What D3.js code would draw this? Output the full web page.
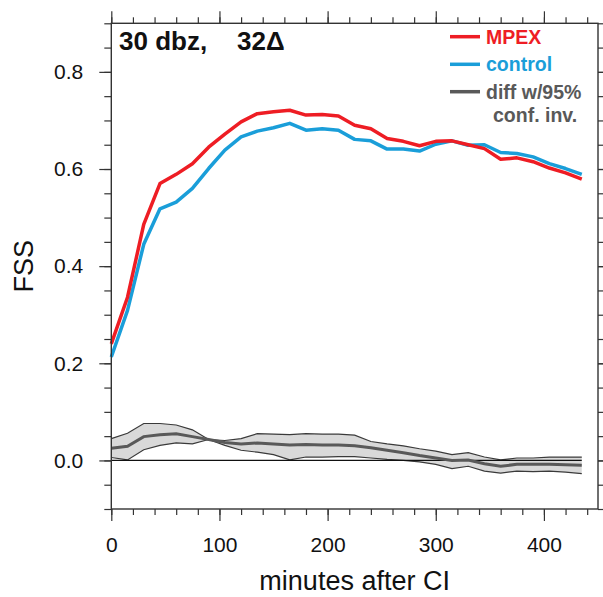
<!DOCTYPE html>
<html>
<head>
<meta charset="utf-8">
<script src="https://cdn.jsdelivr.net/npm/d3@7"></script>
<style>
  body { margin: 0; background: #fff; }
  text { font-family: "Liberation Sans", Helvetica, Arial, sans-serif; }
</style>
</head>
<body>
<svg></svg>
<script>
var width = 603,
    height = 597;

// minutes after CI
var minutes = [0, 15, 30, 45, 60, 75, 90, 105, 120, 135, 150, 165, 180, 195, 210,
    225, 240, 255, 270, 285, 300, 315, 330, 345, 360, 375, 390, 405, 420, 435];

var mpex = [0.240, 0.336, 0.486, 0.570, 0.589, 0.611, 0.645, 0.672, 0.697, 0.714,
    0.718, 0.721, 0.711, 0.712, 0.709, 0.690, 0.683, 0.663, 0.657, 0.648,
    0.657, 0.658, 0.650, 0.642, 0.620, 0.623, 0.615, 0.602, 0.592, 0.579];

var control = [0.213, 0.309, 0.445, 0.518, 0.532, 0.560, 0.601, 0.639, 0.666, 0.678,
    0.685, 0.694, 0.680, 0.683, 0.680, 0.661, 0.658, 0.641, 0.641, 0.637,
    0.651, 0.658, 0.649, 0.650, 0.634, 0.632, 0.625, 0.611, 0.601, 0.589];

var diff = [0.025, 0.029, 0.049, 0.053, 0.055, 0.049, 0.043, 0.037, 0.034, 0.036,
    0.034, 0.032, 0.033, 0.032, 0.032, 0.030, 0.026, 0.021, 0.016, 0.010,
    0.005, 0.000, 0.001, -0.007, -0.012, -0.008, -0.008, -0.008, -0.009, -0.010];

// the two edges of the 95% confidence band (they cross near 90 min)
var ciEdgeA = [0.045, 0.056, 0.076, 0.076, 0.073, 0.063, 0.043, 0.031, 0.021, 0.017,
    0.012, 0.001, 0.007, 0.007, 0.008, 0.008, 0.005, 0.002, 0.000, -0.003,
    -0.008, -0.017, -0.012, -0.022, -0.026, -0.022, -0.023, -0.022, -0.024, -0.027];

var ciEdgeB = [0.006, 0.001, 0.022, 0.031, 0.036, 0.034, 0.043, 0.041, 0.045, 0.055,
    0.054, 0.053, 0.055, 0.054, 0.054, 0.052, 0.039, 0.034, 0.030, 0.024,
    0.019, 0.012, 0.016, 0.007, 0.001, 0.005, 0.005, 0.007, 0.007, 0.007];

var xTicks = [0, 100, 200, 300, 400],
    yTicks = [0.0, 0.2, 0.4, 0.6, 0.8];

var legendItems = [
    { name: "MPEX", lines: ["MPEX"] },
    { name: "control", lines: ["control"] },
    { name: "diff", lines: ["diff w/95%", "conf. inv."] }
];

var colorMapping = {
    "MPEX": "#ee1d24",
    "control": "#1a9ed9",
    "diff": "#595959"
};

var margin = { left: 111.3, right: 5, top: 23.3, bottom: 88 };

var svg = d3.select("svg")
    .attr("width", width)
    .attr("height", height);

var x = d3.scaleLinear()
    .domain([0, 450])
    .range([margin.left, width - margin.right]);

var y = d3.scaleLinear()
    .domain([-0.1, 0.9])
    .range([height - margin.bottom, margin.top]);

var rows = minutes.map(function (m, i) {
    return { t: m, mpex: mpex[i], control: control[i], diff: diff[i], a: ciEdgeA[i], b: ciEdgeB[i] };
});

// confidence band
svg.append("path")
    .datum(rows)
    .attr("fill", "#d9d9d9")
    .attr("d", d3.area()
        .x(function (d) { return x(d.t); })
        .y0(function (d) { return y(d.a); })
        .y1(function (d) { return y(d.b); }));

["a", "b"].forEach(function (k) {
    svg.append("path")
        .datum(rows)
        .attr("fill", "none")
        .attr("stroke", "#3a3a3a")
        .attr("stroke-width", 1.2)
        .attr("d", d3.line()
            .x(function (d) { return x(d.t); })
            .y(function (d) { return y(d[k]); }));
});

// zero reference line
svg.append("line")
    .attr("x1", x(0))
    .attr("x2", x(minutes[minutes.length - 1]))
    .attr("y1", y(0))
    .attr("y2", y(0))
    .attr("stroke", "#111")
    .attr("stroke-width", 1.3);

svg.append("path")
    .datum(rows)
    .attr("fill", "none")
    .attr("stroke", colorMapping["diff"])
    .attr("stroke-width", 3)
    .attr("d", d3.line()
        .x(function (d) { return x(d.t); })
        .y(function (d) { return y(d.diff); }));

[["control", "control"], ["mpex", "MPEX"]].forEach(function (s) {
    svg.append("path")
        .datum(rows)
        .attr("fill", "none")
        .attr("stroke", colorMapping[s[1]])
        .attr("stroke-width", 3.5)
        .attr("stroke-linejoin", "round")
        .attr("d", d3.line()
            .x(function (d) { return x(d.t); })
            .y(function (d) { return y(d[s[0]]); }));
});

// axes: ticks out on all four sides, labels only left and bottom
var frameColor = "#333";

function styleAxis(g) {
    g.select(".domain").remove();
    g.selectAll("line").attr("stroke", frameColor).attr("stroke-width", 1.2);
    g.selectAll("text")
        .attr("fill", "#111")
        .style("font-size", "21px");
}

var xMinor = d3.range(0, 451, 20),
    yMinor = d3.range(-0.1, 0.901, 0.05);

var plotBottom = y(-0.1), plotTop = y(0.9), plotLeft = x(0), plotRight = x(450);

svg.append("g")
    .attr("transform", "translate(0," + plotBottom + ")")
    .call(d3.axisBottom(x).tickValues(xMinor).tickSize(6).tickFormat(""))
    .call(styleAxis);
svg.append("g")
    .attr("transform", "translate(0," + plotBottom + ")")
    .call(d3.axisBottom(x).tickValues(xTicks).tickSize(12).tickPadding(16).tickFormat(d3.format("d")))
    .call(styleAxis);

svg.append("g")
    .attr("transform", "translate(0," + plotTop + ")")
    .call(d3.axisTop(x).tickValues(xMinor).tickSize(6).tickFormat(""))
    .call(styleAxis);
svg.append("g")
    .attr("transform", "translate(0," + plotTop + ")")
    .call(d3.axisTop(x).tickValues(xTicks).tickSize(12).tickFormat(""))
    .call(styleAxis);

svg.append("g")
    .attr("transform", "translate(" + plotLeft + ",0)")
    .call(d3.axisLeft(y).tickValues(yMinor).tickSize(7).tickFormat(""))
    .call(styleAxis);
svg.append("g")
    .attr("transform", "translate(" + plotLeft + ",0)")
    .call(d3.axisLeft(y).tickValues(yTicks).tickSize(12).tickPadding(16).tickFormat(d3.format(".1f")))
    .call(styleAxis);

svg.append("g")
    .attr("transform", "translate(" + plotRight + ",0)")
    .call(d3.axisRight(y).tickValues(yMinor).tickSize(7).tickFormat(""))
    .call(styleAxis);
svg.append("g")
    .attr("transform", "translate(" + plotRight + ",0)")
    .call(d3.axisRight(y).tickValues(yTicks).tickSize(12).tickFormat(""))
    .call(styleAxis);

svg.append("rect")
    .attr("x", plotLeft)
    .attr("y", plotTop)
    .attr("width", plotRight - plotLeft)
    .attr("height", plotBottom - plotTop)
    .attr("fill", "none")
    .attr("stroke", frameColor)
    .attr("stroke-width", 1.4);

// axis titles
svg.append("text")
    .attr("x", (plotLeft + plotRight) / 2)
    .attr("y", 590)
    .attr("text-anchor", "middle")
    .style("font-size", "27px")
    .attr("fill", "#111")
    .text("minutes after CI");

svg.append("text")
    .attr("transform", "translate(33," + y(0.4) + ") rotate(-90)")
    .attr("text-anchor", "middle")
    .style("font-size", "27px")
    .attr("fill", "#111")
    .text("FSS");

// panel title
svg.append("text")
    .attr("x", 119)
    .attr("y", 50)
    .style("font-size", "26px")
    .style("font-weight", "bold")
    .attr("fill", "#111")
    .text("30 dbz,");
svg.append("text")
    .attr("x", 237)
    .attr("y", 50)
    .style("font-size", "26px")
    .style("font-weight", "bold")
    .attr("fill", "#111")
    .text("32\u0394");

// legend
var legendY = [36.7, 64.3, 91.7];
var legend = svg.append("g").attr("class", "legend");

legendItems.forEach(function (item, i) {
    legend.append("line")
        .attr("x1", 450)
        .attr("x2", 480)
        .attr("y1", legendY[i])
        .attr("y2", legendY[i])
        .attr("stroke", colorMapping[item.name])
        .attr("stroke-width", 3.5);
    item.lines.forEach(function (line, j) {
        legend.append("text")
            .attr("x", j === 0 ? 486 : 493)
            .attr("y", legendY[i] + 7 + j * 23)
            .style("font-size", "19.5px")
            .style("font-weight", "bold")
            .attr("fill", colorMapping[item.name])
            .text(line);
    });
});
</script>
</body>
</html>
